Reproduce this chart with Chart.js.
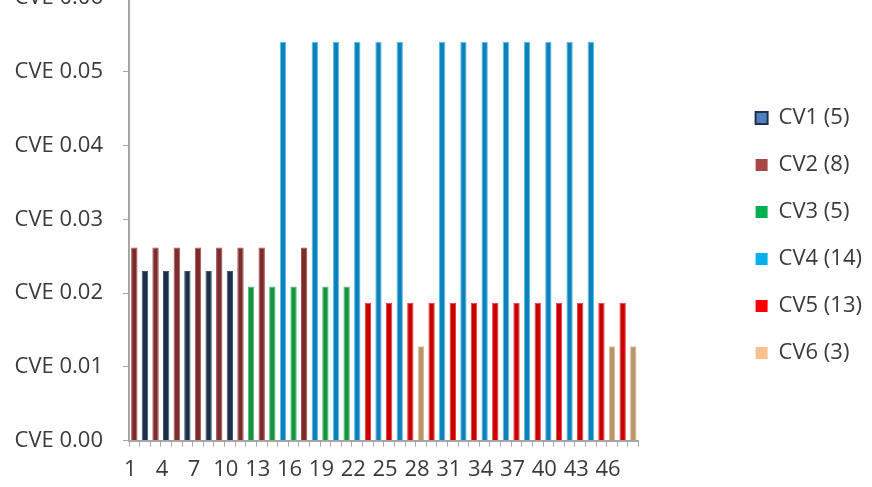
<!DOCTYPE html>
<html>
<head>
<meta charset="utf-8">
<script src="https://cdn.jsdelivr.net/npm/chart.js@4.4.1/dist/chart.umd.min.js"></script>
<style>
  html, body { margin: 0; padding: 0; background: #fff; overflow: hidden; }
  #wrap { position: absolute; left: 0; top: -35px; width: 872px; height: 534px; }
</style>
</head>
<body>
<div id="wrap"><canvas id="cve-chart" width="872" height="534"></canvas></div>
<script>
// categories 1..48, each one belongs to exactly one CV group
const categories = ['1','2','3','4','5','6','7','8','9','10','11','12','13','14','15','16',
  '17','18','19','20','21','22','23','24','25','26','27','28','29','30','31','32',
  '33','34','35','36','37','38','39','40','41','42','43','44','45','46','47','48'];

// which CV each category falls in
const groupOf = [2,1,2,1,2,1,2,1,2,1,2,3,2,3,4,3,
  2,4,3,4,3,4,5,4,5,4,5,6,5,4,5,4,
  5,4,5,4,5,4,5,4,5,4,5,4,5,6,5,6];

const seriesNames = ['CV1 (5)', 'CV2 (8)', 'CV3 (5)', 'CV4 (14)', 'CV5 (13)', 'CV6 (3)'];
const seriesValues = [0.0230, 0.0262, 0.0209, 0.0541, 0.0187, 0.0128];

const yTicks = [0, 0.01, 0.02, 0.03, 0.04, 0.05, 0.06];

const barColors    = ['#1c2f47', '#7d2c2c', '#16933f', '#0f80b9', '#c70000', '#b8956b'];
const barEdges     = ['#3b5878', '#a65050', '#4cc070', '#52c3ee', '#f03a3a', '#dcb98f'];
const legendColors = ['#4f81bd', '#a94646', '#00b050', '#00b0f0', '#ff0000', '#fac090'];
const legendEdges  = ['#1f3050', '#a94646', '#00b050', '#00b0f0', '#ff0000', '#fac090'];

const textColor = '#3a3a3a';
const axisColor = '#a6a6a6';
const labelFont = { family: 'Open Sans', size: 22 };

document.addEventListener('DOMContentLoaded', function() {
    const ctx = document.getElementById('cve-chart');

    const datasets = seriesNames.map(function(name, s) {
        return {
            label: name,
            data: groupOf.map(function(g) { return g === s + 1 ? seriesValues[s] : null; }),
            backgroundColor: barColors[s],
            borderColor: barEdges[s],
            borderWidth: 1,
            grouped: false,
            barPercentage: 0.6,
            categoryPercentage: 1.0
        };
    });

    new Chart(ctx, {
        type: 'bar',
        data: {
            labels: categories,
            datasets: datasets
        },
        options: {
            responsive: false,
            animation: false,
            layout: {
                padding: { left: 0, right: 0, top: 0, bottom: 6 }
            },
            plugins: {
                tooltip: { enabled: false },
                legend: {
                    position: 'right',
                    // blank title only nudges the item column down a little
                    title: {
                        display: true,
                        text: ' ',
                        font: { size: 1 },
                        padding: { top: 0, bottom: 12 }
                    },
                    labels: {
                        boxWidth: 12,
                        boxHeight: 12,
                        padding: 25,
                        color: textColor,
                        font: labelFont,
                        generateLabels: function(chart) {
                            const items = Chart.defaults.plugins.legend.labels.generateLabels(chart);
                            items.forEach(function(item, i) {
                                item.fillStyle = legendColors[i];
                                item.strokeStyle = legendEdges[i];
                                item.lineWidth = i === 0 ? 2 : 0;
                            });
                            return items;
                        }
                    }
                }
            },
            scales: {
                x: {
                    grid: {
                        drawOnChartArea: false,
                        tickLength: 6,
                        color: axisColor
                    },
                    border: { color: axisColor, width: 2 },
                    ticks: {
                        autoSkip: false,
                        maxRotation: 0,
                        labelOffset: -4,
                        padding: 10,
                        color: textColor,
                        font: labelFont,
                        callback: function(value, index) {
                            return index % 3 === 0 ? categories[index] : '';
                        }
                    }
                },
                y: {
                    min: yTicks[0],
                    max: yTicks[yTicks.length - 1],
                    grid: {
                        drawOnChartArea: false,
                        tickLength: 6,
                        color: axisColor
                    },
                    border: { color: axisColor, width: 2 },
                    afterBuildTicks: function(scale) {
                        scale.ticks = yTicks.map(function(v) { return { value: v }; });
                    },
                    afterFit: function(scale) {
                        scale.width = 129;
                    },
                    ticks: {
                        padding: 20,
                        color: textColor,
                        font: labelFont,
                        callback: function(value) {
                            return 'CVE ' + Number(value).toFixed(2);
                        }
                    }
                },
                // empty spacer on the right so the legend sits apart from the bars
                spacer: {
                    type: 'linear',
                    position: 'right',
                    display: true,
                    grid: { display: false },
                    border: { display: false },
                    ticks: { display: false },
                    afterFit: function(scale) {
                        scale.width = 92;
                    }
                }
            }
        }
    });
});
</script>
</body>
</html>
